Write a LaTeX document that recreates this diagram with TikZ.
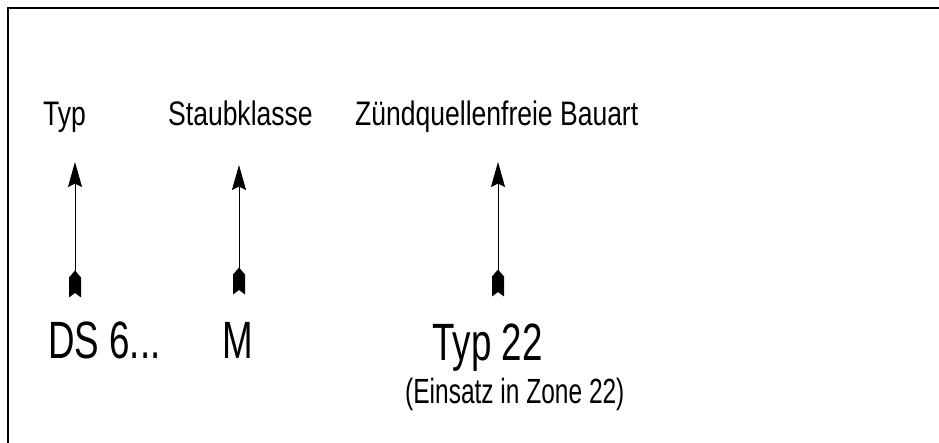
\documentclass[tikz,border=0pt]{standalone}
\usepackage{fontspec}
\setmainfont{Liberation Sans}
\newfontfamily\schmal[FakeStretch=0.70]{Liberation Sans}
\newfontfamily\etikett[FakeStretch=0.78]{Liberation Sans}
\usetikzlibrary{arrows.meta}

% Federende fuer die Pfeile
\pgfdeclarearrow{
  name = Feder,
  setup code = {
    \pgfarrowssettipend{0pt}
    \pgfarrowssetbackend{-27pt}
    \pgfarrowssetlineend{-22pt}
    \pgfarrowshullpoint{0pt}{6pt}
    \pgfarrowshullpoint{0pt}{-6pt}
    \pgfarrowshullpoint{-27pt}{0pt}
  },
  drawing code = {
    \pgfpathmoveto{\pgfqpoint{0pt}{6pt}}
    \pgfpathlineto{\pgfqpoint{-20pt}{6pt}}
    \pgfpathlineto{\pgfqpoint{-27pt}{0pt}}
    \pgfpathlineto{\pgfqpoint{-20pt}{-6pt}}
    \pgfpathlineto{\pgfqpoint{0pt}{-6pt}}
    \pgfpathlineto{\pgfqpoint{-4.5pt}{0pt}}
    \pgfpathclose
    \pgfusepathqfill
  }
}

\begin{document}
\begin{tikzpicture}[x=1pt, y=-1pt,
                etikett/.style = {
                    anchor=base west, inner sep=0pt,
                    font=\etikett\fontsize{34}{36}\selectfont
                },
                gross/.style = {
                    anchor=base west, inner sep=0pt,
                    font=\schmal\fontsize{52.5}{56}\selectfont
                },
                klein/.style = {
                    anchor=base west, inner sep=0pt,
                    font=\schmal\fontsize{35}{40}\selectfont
                },
                pfeil/.style = {
                    draw, line width=0.9pt,
                    {Feder}-{Stealth[length=25pt, width=14pt, inset=3.5pt]}
                }
                ]

                \useasboundingbox (0,0) rectangle (939,443);
                \clip (0,0) rectangle (939,443);
                \draw[line width=2pt] (7.5,8.5) rectangle (960,470);

                \node[etikett] (typ) at (43,126) {Typ};
                \node[etikett] (staub) at (168,126) {Staubklasse};
                \node[etikett] (zuend) at (355,126) {Zündquellenfreie Bauart};

                \node[gross] (ds) at (48,359) {DS 6...};
                \node[gross] (m) at (222,359) {M};
                \node[gross] (typ22) at (432,360) {Typ 22};
                \node[klein] (zone) at (405,403) {(Einsatz in Zone 22)};

                \coordinate (f1) at (75,297.5);
                \coordinate (s1) at (75,162);
                \coordinate (f2) at (239,294.5);
                \coordinate (s2) at (239,165);
                \coordinate (f3) at (498,296.5);
                \coordinate (s3) at (498,162);

                \path[pfeil] (f1)--(s1);
                \path[pfeil] (f2)--(s2);
                \path[pfeil] (f3)--(s3);
            \end{tikzpicture}
\end{document}
